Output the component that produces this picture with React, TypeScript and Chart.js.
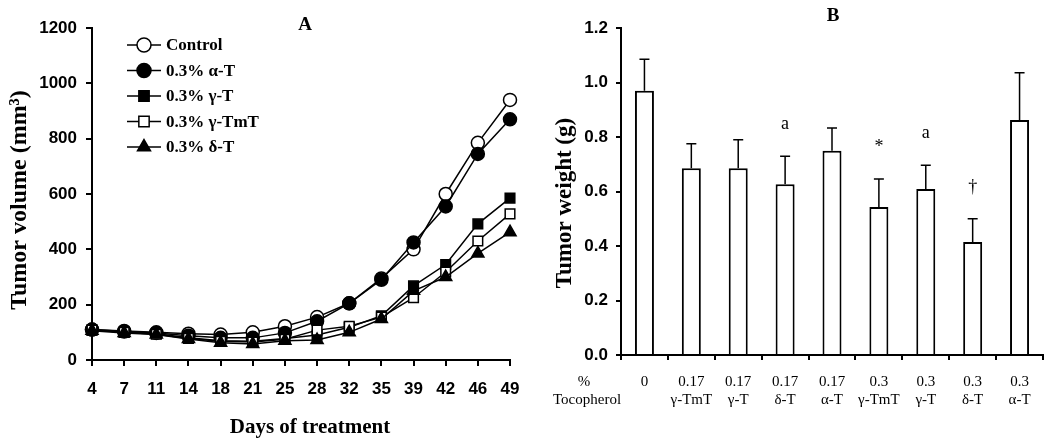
import React, { useEffect, useRef } from 'react';
import { Chart, registerables } from 'chart.js';

Chart.register(...registerables);

const SERIF = '"Liberation Serif", "Times New Roman", Times, serif';
const SANS = '"Liberation Sans", Arial, Helvetica, sans-serif';

// ---- Panel A data ----
const days = ['4', '7', '11', '14', '18', '21', '25', '28', '32', '35', '39', '42', '46', '49'];
const controlVol = [110, 105, 100, 95, 92, 100, 122, 155, 205, 295, 400, 600, 785, 940];
const alphaVol = [110, 103, 98, 88, 80, 80, 98, 140, 205, 290, 425, 555, 745, 870];
const gammaVol = [108, 100, 95, 80, 70, 68, 78, 90, 118, 160, 268, 345, 492, 585];
const gammaTmTVol = [108, 100, 93, 78, 68, 65, 75, 108, 122, 155, 225, 318, 430, 528];
const deltaVol = [106, 98, 92, 76, 62, 58, 70, 72, 100, 148, 250, 300, 385, 462];
const seriesNames = ['Control', '0.3% α-T', '0.3% γ-T', '0.3% γ-TmT', '0.3% δ-T'];

// ---- Panel B data ----
const doses = ['0', '0.17', '0.17', '0.17', '0.17', '0.3', '0.3', '0.3', '0.3'];
const agents = ['', 'γ-TmT', 'γ-T', 'δ-T', 'α-T', 'γ-TmT', 'γ-T', 'δ-T', 'α-T'];
const weights = [0.97, 0.685, 0.685, 0.627, 0.75, 0.543, 0.609, 0.415, 0.862];
const weightSE = [0.115, 0.09, 0.105, 0.102, 0.083, 0.103, 0.087, 0.085, 0.174];
const marks = ['', '', '', 'a', '', '*', 'a', '†', ''];

function drawMarker(ctx: CanvasRenderingContext2D, style: string, x: number, y: number, r: number, fill: string) {
  ctx.beginPath();
  if (style === 'circle') {
    ctx.arc(x, y, r, 0, Math.PI * 2);
  } else if (style === 'rect') {
    const h = r * Math.SQRT1_2;
    ctx.rect(x - h, y - h, 2 * h, 2 * h);
  } else if (style === 'triangle') {
    let rad = 0;
    ctx.moveTo(x + Math.sin(rad) * r, y - Math.cos(rad) * r);
    rad += (2 * Math.PI) / 3;
    ctx.lineTo(x + Math.sin(rad) * r, y - Math.cos(rad) * r);
    rad += (2 * Math.PI) / 3;
    ctx.lineTo(x + Math.sin(rad) * r, y - Math.cos(rad) * r);
    ctx.closePath();
  }
  ctx.fillStyle = fill;
  ctx.fill();
  ctx.lineWidth = 1.5;
  ctx.strokeStyle = '#000';
  ctx.stroke();
}

const axisCommon = (tickLen: number) => ({
  grid: { display: true, drawOnChartArea: false, drawTicks: true, tickLength: tickLen, color: '#000', lineWidth: 2 },
  border: { display: true, color: '#000', width: 2 },
});

export default function App() {
  const refA = useRef<HTMLCanvasElement>(null);
  const refB = useRef<HTMLCanvasElement>(null);

  useEffect(() => {
    const styles = [
      { data: controlVol, style: 'circle', fill: '#fff', r: 6.5 },
      { data: alphaVol, style: 'circle', fill: '#000', r: 6.5 },
      { data: gammaVol, style: 'rect', fill: '#000', r: 6.8 },
      { data: gammaTmTVol, style: 'rect', fill: '#fff', r: 6.8 },
      { data: deltaVol, style: 'triangle', fill: '#000', r: 7 },
    ];
    const datasetsA = styles.map((s, i) => ({
      label: seriesNames[i],
      data: s.data,
      borderColor: '#000',
      borderWidth: 1.5,
      tension: 0,
      pointStyle: s.style,
      pointRadius: s.r,
      pointBackgroundColor: s.fill,
      pointBorderColor: '#000',
      pointBorderWidth: 1.5,
      clip: false,
      order: 5 - i,
    }));

    const pluginA = {
      id: 'decorA',
      afterDraw(chart: any) {
        const ctx = chart.ctx as CanvasRenderingContext2D;
        ctx.save();
        ctx.fillStyle = '#000';
        ctx.textAlign = 'center';
        ctx.textBaseline = 'alphabetic';
        ctx.font = `bold 19px ${SERIF}`;
        ctx.fillText('A', 305, 29.5);
        ctx.font = `bold 21px ${SERIF}`;
        ctx.fillText('Days of treatment', 310, 433);
        ctx.save();
        ctx.translate(26, 200);
        ctx.rotate(-Math.PI / 2);
        ctx.font = `bold 24px ${SERIF}`;
        ctx.fillText('Tumor volume (mm³)', 0, 0);
        ctx.restore();
        // legend
        chart.data.datasets.forEach((ds: any, i: number) => {
          const y = 45 + i * 25.5;
          ctx.beginPath();
          ctx.moveTo(127, y);
          ctx.lineTo(161, y);
          ctx.lineWidth = 1.5;
          ctx.strokeStyle = '#000';
          ctx.stroke();
          drawMarker(ctx, ds.pointStyle, 144, y, ds.pointRadius + 0.5, ds.pointBackgroundColor);
          ctx.fillStyle = '#000';
          ctx.font = `bold 17px ${SERIF}`;
          ctx.textAlign = 'left';
          ctx.textBaseline = 'middle';
          ctx.fillText(ds.label, 166, y + 1);
        });
        ctx.restore();
      },
    };

    const chartA = new Chart(refA.current!, {
      type: 'line',
      data: { labels: days, datasets: datasetsA as any },
      options: {
        animation: false,
        responsive: false,
        layout: { padding: { left: 0, top: 28, right: 30, bottom: 0 } },
        plugins: { legend: { display: false }, tooltip: { enabled: false }, title: { display: false } },
        scales: {
          x: {
            type: 'category',
            offset: false,
            ...axisCommon(6),
            ticks: { color: '#000', font: { family: SANS, size: 17, weight: 'bold' }, padding: 13, maxRotation: 0, autoSkip: false },
            afterFit: (s: any) => { s.height = 81; s.paddingLeft = 0; s.paddingRight = 0; },
          },
          y: {
            min: 0,
            max: 1200,
            ...axisCommon(6),
            ticks: {
              stepSize: 200,
              color: '#000',
              font: { family: SANS, size: 17, weight: 'bold' },
              padding: 9,
              callback: (v: any) => String(Math.round(Number(v))),
            },
            afterFit: (s: any) => { s.width = 92; s.paddingTop = 0; s.paddingBottom = 0; },
          },
        },
      } as any,
      plugins: [pluginA],
    });

    const pluginB = {
      id: 'decorB',
      afterDatasetsDraw(chart: any) {
        const ctx = chart.ctx as CanvasRenderingContext2D;
        const meta = chart.getDatasetMeta(0);
        const yScale = chart.scales.y;
        ctx.save();
        ctx.strokeStyle = '#000';
        ctx.lineWidth = 1.5;
        meta.data.forEach((el: any, i: number) => {
          const top = yScale.getPixelForValue(weights[i] + weightSE[i]);
          ctx.beginPath();
          ctx.moveTo(el.x, el.y);
          ctx.lineTo(el.x, top);
          ctx.moveTo(el.x - 5, top);
          ctx.lineTo(el.x + 5, top);
          ctx.stroke();
          if (marks[i]) {
            ctx.fillStyle = '#000';
            ctx.font = `18px ${SERIF}`;
            ctx.textAlign = 'center';
            ctx.textBaseline = 'alphabetic';
            ctx.fillText(marks[i], el.x, top - 27);
          }
        });
        ctx.restore();
      },
      afterDraw(chart: any) {
        const ctx = chart.ctx as CanvasRenderingContext2D;
        const area = chart.chartArea;
        ctx.save();
        ctx.fillStyle = '#000';
        ctx.textAlign = 'center';
        ctx.textBaseline = 'alphabetic';
        ctx.font = `bold 19px ${SERIF}`;
        ctx.fillText('B', 293, 20.7);
        ctx.save();
        ctx.translate(30.5, 203);
        ctx.rotate(-Math.PI / 2);
        ctx.font = `bold 23px ${SERIF}`;
        ctx.fillText('Tumor weight (g)', 0, 0);
        ctx.restore();
        ctx.font = `15px ${SERIF}`;
        ctx.textBaseline = 'middle';
        ctx.fillText('%', 44, area.bottom + 27);
        ctx.fillText('Tocopherol', 47, area.bottom + 45);
        ctx.restore();
      },
    };

    const chartB = new Chart(refB.current!, {
      type: 'bar',
      data: {
        labels: doses.map((d, i) => [d, agents[i]]),
        datasets: [
          {
            label: 'Tumor weight',
            data: weights,
            backgroundColor: '#fff',
            borderColor: '#000',
            borderWidth: 2,
            barPercentage: 0.405,
            categoryPercentage: 1,
          },
        ],
      },
      options: {
        animation: false,
        responsive: false,
        layout: { padding: { left: 0, top: 28, right: 7, bottom: 0 } },
        plugins: { legend: { display: false }, tooltip: { enabled: false }, title: { display: false } },
        scales: {
          x: {
            ...axisCommon(5),
            ticks: { color: '#000', font: { family: SERIF, size: 15 }, padding: 13, maxRotation: 0, autoSkip: false },
            afterFit: (s: any) => { s.height = 86; s.paddingLeft = 0; s.paddingRight = 0; },
          },
          y: {
            min: 0,
            max: 1.2,
            ...axisCommon(5),
            ticks: {
              stepSize: 0.2,
              color: '#000',
              font: { family: SANS, size: 17, weight: 'bold' },
              padding: 8,
              callback: (v: any) => Number(v).toFixed(1),
            },
            afterFit: (s: any) => { s.width = 81; s.paddingTop = 0; s.paddingBottom = 0; },
          },
        },
      } as any,
      plugins: [pluginB],
    });

    return () => {
      chartA.destroy();
      chartB.destroy();
    };
  }, []);

  return (
    <div style={{ position: 'absolute', left: 0, top: 0, width: 1050, height: 441, background: '#fff', overflow: 'hidden' }}>
      <canvas ref={refA} width={540} height={441} style={{ position: 'absolute', left: 0, top: 0, width: 540, height: 441 }} />
      <canvas ref={refB} width={510} height={441} style={{ position: 'absolute', left: 540, top: 0, width: 510, height: 441 }} />
    </div>
  );
}
